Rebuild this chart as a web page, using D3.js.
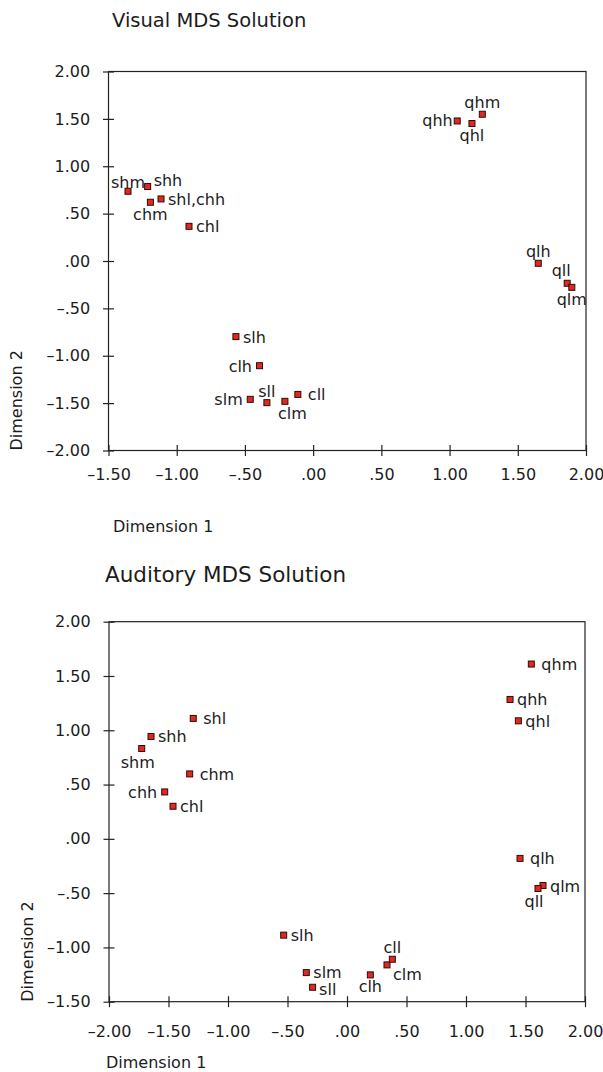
<!DOCTYPE html>
<html>
<head>
<meta charset="utf-8">
<script src="https://cdn.jsdelivr.net/npm/d3@7"></script>
<style>
body { margin: 0; background: #fff; }
svg text { font-family: "DejaVu Sans", sans-serif; font-size: 16px; fill: #1c1c1c; }
.frame, .tick line { stroke: #222; stroke-width: 1.2; fill: none; }
.pt { fill: #e2291f; stroke: #2b0c0a; stroke-width: 1; }
</style>
</head>
<body>
<svg id="chart" width="603" height="1072"></svg>
<script>
// Visual MDS solution
var visLabels = ["shm", "shh", "chm", "shl,chh", "chl", "qhh", "qhm", "qhl", "qlh", "qll", "qlm",
                 "slh", "clh", "slm", "sll", "clm", "cll"];
var visDim1 = [-1.357, -1.213, -1.193, -1.115, -0.91, 1.056, 1.24, 1.164, 1.65, 1.862, 1.896,
               -0.566, -0.393, -0.461, -0.339, -0.207, -0.112];
var visDim2 = [0.736, 0.786, 0.62, 0.655, 0.366, 1.478, 1.549, 1.451, -0.024, -0.235, -0.278,
               -0.798, -1.105, -1.46, -1.495, -1.481, -1.408];
var visTicks1 = [-1.5, -1, -0.5, 0, 0.5, 1, 1.5, 2];
var visTicks2 = [-2, -1.5, -1, -0.5, 0, 0.5, 1, 1.5, 2];

// Auditory MDS solution
var audLabels = ["shl", "shh", "shm", "chm", "chh", "chl", "qhm", "qhh", "qhl", "qlh", "qlm", "qll",
                 "slh", "slm", "sll", "clh", "clm", "cll"];
var audDim1 = [-1.292, -1.647, -1.725, -1.322, -1.532, -1.462, 1.549, 1.37, 1.44, 1.454, 1.647, 1.605,
               -0.532, -0.342, -0.289, 0.196, 0.336, 0.381];
var audDim2 = [1.109, 0.943, 0.832, 0.598, 0.432, 0.30, 1.61, 1.284, 1.087, -0.18, -0.43, -0.457,
               -0.887, -1.232, -1.367, -1.253, -1.161, -1.109];
var audTicks1 = [-2, -1.5, -1, -0.5, 0, 0.5, 1, 1.5, 2];
var audTicks2 = [-1.5, -1, -0.5, 0, 0.5, 1, 1.5, 2];

// where each point label sits relative to its marker: [dx, dy, anchor]
var place = {
    r: [7, 6, "start"], R: [10, 6, "start"], rb: [6.5, 7.5, "start"], ru: [7, 5, "start"],
    l: [-7.5, 6, "end"], L: [-4.5, 5, "end"],
    t: [0, -6, "middle"], T: [0, -3.5, "middle"], tL: [-6, -7.5, "middle"],
    b: [0, 17.5, "middle"], bL: [-4, 19, "middle"], bR: [7.5, 18, "middle"],
    tr: [6, -0.5, "start"], br: [6, 15, "start"]
};
var visSide = {shm: "T", shh: "tr", chm: "b", "shl,chh": "r", chl: "r", qhh: "L", qhm: "t",
               qhl: "b", qlh: "t", qll: "tL", qlm: "b", slh: "r", clh: "l", slm: "l",
               sll: "t", clm: "bR", cll: "R"};
var audSide = {shl: "R", shh: "r", shm: "bL", chm: "R", chh: "l", chl: "r", qhm: "R", qhh: "r",
               qhl: "r", qlh: "R", qlm: "r", qll: "bL", slh: "r", slm: "ru", sll: "rb",
               clh: "b", clm: "br", cll: "t"};

var svg = d3.select("#chart");

function fmt(d) {
    var s = Math.abs(d).toFixed(2).replace(/^0/, "");
    return d < 0 ? "\u2013" + s : s;
}

function drawPanel(p) {
    var g = svg.append("g");
    var x = d3.scaleLinear()
        .domain([p.ticks1[0], p.ticks1[p.ticks1.length - 1]])
        .range([p.box.left, p.box.right]);
    var y = d3.scaleLinear()
        .domain([p.ticks2[0], p.ticks2[p.ticks2.length - 1]])
        .range([p.box.bottom, p.box.top]);

    g.append("text")
        .attr("x", p.titleX).attr("y", p.titleY)
        .style("font-size", p.titleSize + "px")
        .text(p.title);

    // x axis, ticks cross the line
    var ax = g.append("g")
        .attr("transform", "translate(0," + p.box.bottom + ")")
        .call(d3.axisBottom(x).tickValues(p.ticks1).tickFormat(fmt)
              .tickSizeInner(5.5).tickSizeOuter(0).tickPadding(p.xPad));
    ax.select(".domain").remove();
    ax.selectAll(".tick line").attr("y1", -5.5);

    var ay = g.append("g")
        .attr("transform", "translate(" + p.box.left + ",0)")
        .call(d3.axisLeft(y).tickValues(p.ticks2).tickFormat(fmt)
              .tickSizeInner(5.5).tickSizeOuter(0).tickPadding(12.8));
    ay.select(".domain").remove();
    ay.selectAll(".tick line").attr("x1", 5.5);

    g.append("rect")
        .attr("class", "frame")
        .attr("x", p.box.left).attr("y", p.box.top)
        .attr("width", p.box.right - p.box.left)
        .attr("height", p.box.bottom - p.box.top);

    g.append("text")
        .attr("x", p.xLabelX).attr("y", p.xLabelY)
        .text("Dimension 1");
    g.append("text")
        .attr("transform", "translate(" + p.yLabelX + "," + p.box.bottom + ") rotate(-90)")
        .text("Dimension 2");

    var idx = d3.range(p.labels.length);
    g.selectAll(".pt")
        .data(idx)
        .enter()
        .append("rect")
        .attr("class", "pt")
        .attr("x", function(i) { return x(p.dim1[i]) - 3; })
        .attr("y", function(i) { return y(p.dim2[i]) - 3; })
        .attr("width", 6)
        .attr("height", 6);

    g.selectAll(".lbl")
        .data(idx)
        .enter()
        .append("text")
        .attr("class", "lbl")
        .attr("x", function(i) { return x(p.dim1[i]) + place[p.side[p.labels[i]]][0]; })
        .attr("y", function(i) { return y(p.dim2[i]) + place[p.side[p.labels[i]]][1]; })
        .attr("text-anchor", function(i) { return place[p.side[p.labels[i]]][2]; })
        .text(function(i) { return p.labels[i]; });
}

drawPanel({
    title: "Visual MDS Solution", titleX: 112, titleY: 26.7, titleSize: 19.5,
    labels: visLabels, dim1: visDim1, dim2: visDim2, side: visSide,
    ticks1: visTicks1, ticks2: visTicks2,
    box: {left: 108.5, right: 586, top: 71.5, bottom: 450.5},
    xPad: 12.4, xLabelX: 113, xLabelY: 531.8, yLabelX: 22
});

drawPanel({
    title: "Auditory MDS Solution", titleX: 105, titleY: 581.7, titleSize: 21.5,
    labels: audLabels, dim1: audDim1, dim2: audDim2, side: audSide,
    ticks1: audTicks1, ticks2: audTicks2,
    box: {left: 109, right: 585, top: 621.7, bottom: 1001.7},
    xPad: 18.9, xLabelX: 106, xLabelY: 1067.5, yLabelX: 33
});
</script>
</body>
</html>
